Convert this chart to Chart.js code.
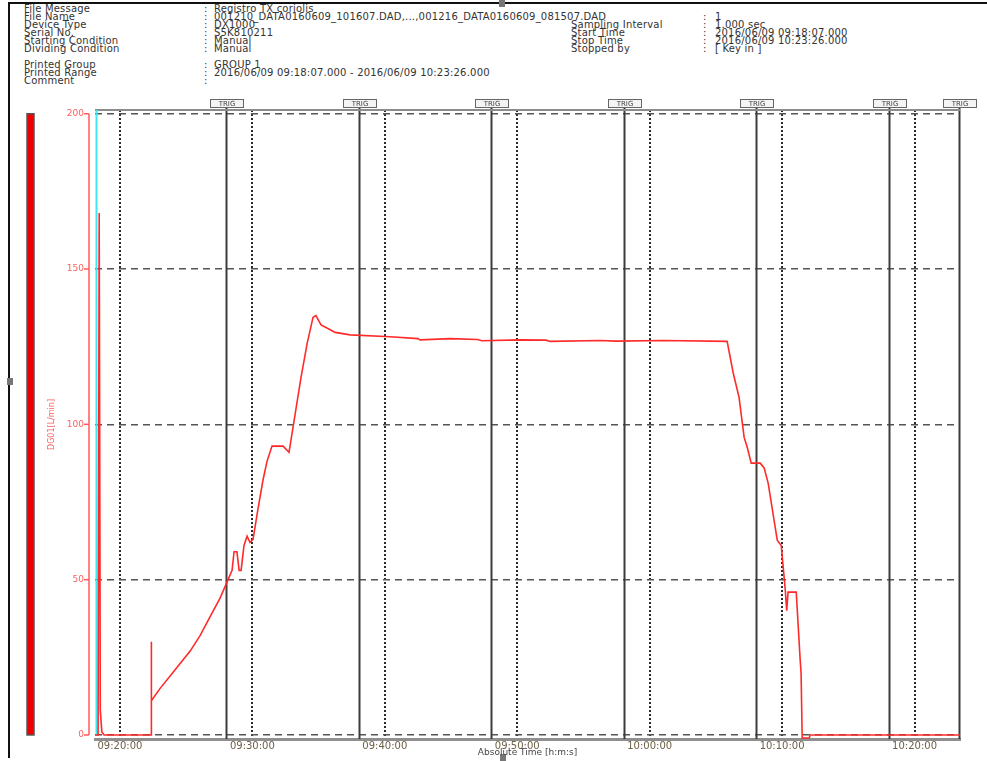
<!DOCTYPE html>
<html>
<head>
<meta charset="utf-8">
<script src="https://cdn.jsdelivr.net/npm/chart.js@4.4.1/dist/chart.umd.min.js"></script>
<style>
    html, body { margin: 0; padding: 0; background: #fff; }
    #page { position: relative; width: 987px; height: 761px; overflow: hidden; font-family: "DejaVu Sans", sans-serif; }
    #chart { position: absolute; left: 0; top: 0; }
    .hd { position: absolute; font-size: 10px; line-height: 9px; letter-spacing: 0.2px; color: #333; white-space: nowrap; }
    .frame { position: absolute; background: #111; }
    .sq { position: absolute; width: 6px; height: 7px; background: #777; }
</style>
</head>
<body>
<div id="page">
    <div class="frame" style="left:8px;top:2px;width:979px;height:2px;"></div>
    <div class="frame" style="left:8px;top:2px;width:2px;height:756px;"></div>
    <div class="sq" style="left:7px;top:378px;"></div>
    <div class="sq" style="left:499px;top:0px;"></div>
    <div class="sq" style="left:500px;top:754px;"></div>
    <div id="header"></div>
    <canvas id="chart" width="987" height="761"></canvas>
</div>
<script>
    // header rows: label, value
    var headerLeft = [
        ['File Message', 'Registro TX coriolis'],
        ['File Name', '001210_DATA0160609_101607.DAD,...,001216_DATA0160609_081507.DAD'],
        ['Device Type', 'DX1000'],
        ['Serial No.', 'S5K810211'],
        ['Starting Condition', 'Manual'],
        ['Dividing Condition', 'Manual'],
        null,
        ['Printed Group', 'GROUP 1'],
        ['Printed Range', '2016/06/09 09:18:07.000 - 2016/06/09 10:23:26.000'],
        ['Comment', '']
    ];
    var headerRight = [
        null,
        ['', '1'],
        ['Sampling Interval', '1.000 sec'],
        ['Start Time', '2016/06/09 09:18:07.000'],
        ['Stop Time', '2016/06/09 10:23:26.000'],
        ['Stopped by', '[ Key in ]']
    ];

    // trace (time, DG01 L/min)
    var times = [
        '09:18:07', '09:18:21', '09:18:26', '09:18:31', '09:18:38', '09:18:48',
        '09:22:21', '09:22:22', '09:22:23', '09:23:02', '09:24:10', '09:25:18',
        '09:26:03', '09:26:48', '09:27:33', '09:28:10', '09:28:28', '09:28:37',
        '09:28:50', '09:29:00', '09:29:09', '09:29:22', '09:29:36', '09:29:49',
        '09:30:03', '09:30:26', '09:30:48', '09:31:06', '09:31:29', '09:32:19',
        '09:32:46', '09:33:13', '09:33:40', '09:34:08', '09:34:35', '09:34:48',
        '09:35:11', '09:35:38', '09:36:15', '09:37:23', '09:40:24', '09:42:30',
        '09:42:40', '09:44:56', '09:47:00', '09:47:20', '09:50:13', '09:52:10',
        '09:52:30', '09:56:15', '09:57:30', '10:01:00', '10:05:51', '10:06:18',
        '10:06:45', '10:07:08', '10:07:22', '10:07:40', '10:08:21', '10:08:39',
        '10:08:57', '10:09:38', '10:09:56', '10:10:14', '10:10:21', '10:10:27',
        '10:11:04', '10:11:22', '10:11:26', '10:11:31', '10:12:03', '10:12:07',
        '10:23:26'
    ];
    var flow = [
        0, 0, 168, 8, 1, 0,
        0, 30, 11, 15, 21, 27,
        32, 38, 44, 50, 53, 59,
        59, 53, 53, 61, 64, 62,
        63, 73, 82, 88, 93, 93,
        91, 103, 115, 126, 134.5, 135,
        132, 131, 129.6, 128.8, 128.2, 127.6,
        127.2, 127.6, 127.3, 126.9, 127.2, 127.1,
        126.7, 127, 126.8, 127, 126.7, 116.7,
        108.7, 95.8, 92.6, 87.5, 87.5, 85.9,
        81, 62.7, 61, 47, 40, 46,
        46, 24, 20, -1, -1, 0,
        0
    ];

    var xTickLabels = ['09:20:00', '09:30:00', '09:40:00', '09:50:00', '10:00:00', '10:10:00', '10:20:00'];
    var yTickValues = [0, 50, 100, 150, 200];
    var trigTimes = ['09:28:07', '09:38:07', '09:48:07', '09:58:07', '10:08:07', '10:18:07', '10:23:26'];
    var startTime = '09:18:07';
    var stopTime = '10:23:26';

    function toSec(s) {
        var p = s.split(':');
        return (+p[0]) * 3600 + (+p[1]) * 60 + (+p[2]);
    }
    function pad(n) { return (n < 10 ? '0' : '') + n; }
    function fmt(v) {
        v = Math.round(v);
        return pad(Math.floor(v / 3600)) + ':' + pad(Math.floor(v / 60) % 60) + ':' + pad(v % 60);
    }

    // header text
    var header = document.getElementById('header');
    function addText(x, y, txt) {
        var d = document.createElement('div');
        d.className = 'hd';
        d.style.left = x + 'px';
        d.style.top = y + 'px';
        d.textContent = txt;
        header.appendChild(d);
    }
    headerLeft.forEach(function (row, i) {
        if (!row) return;
        var y = 4 + i * 8;
        addText(24, y, row[0]);
        addText(204, y, ':');
        addText(214, y, row[1]);
    });
    headerRight.forEach(function (row, i) {
        if (!row) return;
        var y = 4 + i * 8;
        if (row[0]) addText(571, y, row[0]);
        addText(703, y, ':');
        addText(715, y, row[1]);
    });

    var points = times.map(function (t, i) { return { x: toSec(t), y: flow[i] }; });

    var decor = {
        id: 'decor',
        beforeDatasetsDraw: function (chart) {
            var ctx = chart.ctx, a = chart.chartArea, x = chart.scales.x, y = chart.scales.y;
            var y0 = y.getPixelForValue(0), y200 = y.getPixelForValue(200);
            function line(x1, y1, x2, y2) { ctx.beginPath(); ctx.moveTo(x1, y1); ctx.lineTo(x2, y2); ctx.stroke(); }
            ctx.save();
            // trig lines
            ctx.strokeStyle = '#3c3c3c';
            ctx.lineWidth = 2;
            trigTimes.forEach(function (t) {
                var px = Math.round(x.getPixelForValue(toSec(t))) - 0.5;
                line(px, a.top - 3, px, a.bottom);
            });
            // top frame
            ctx.strokeStyle = '#8c8c8c';
            ctx.lineWidth = 2;
            line(a.left, a.top, a.right, a.top);
            // start marker
            ctx.strokeStyle = '#3ee6f2';
            ctx.lineWidth = 2;
            var sx = x.getPixelForValue(toSec(startTime)) + 1.5;
            line(sx, a.top, sx, a.bottom - 4);
            // red scale line with ticks
            ctx.strokeStyle = '#ff5a5a';
            ctx.lineWidth = 1.5;
            var ax = a.left - 6;
            line(ax, y200, ax, y0);
            yTickValues.forEach(function (v) {
                var py = y.getPixelForValue(v);
                line(ax - 5, py, ax, py);
            });
            // red bar
            ctx.fillStyle = '#ee0000';
            ctx.fillRect(a.left - 68, y200, 7, y0 - y200);
            ctx.strokeStyle = '#555';
            ctx.lineWidth = 1.5;
            ctx.strokeRect(a.left - 68, y200, 7, y0 - y200);
            ctx.restore();
        },
        afterDraw: function (chart) {
            var ctx = chart.ctx, a = chart.chartArea, x = chart.scales.x;
            ctx.save();
            ctx.font = '7px "DejaVu Sans"';
            ctx.textAlign = 'center';
            ctx.textBaseline = 'middle';
            trigTimes.forEach(function (t) {
                var px = Math.round(x.getPixelForValue(toSec(t)));
                ctx.fillStyle = '#f4f4f4';
                ctx.fillRect(px - 16, a.top - 10, 32, 8);
                ctx.strokeStyle = '#666';
                ctx.lineWidth = 1;
                ctx.strokeRect(px - 16.5, a.top - 10.5, 33, 8);
                ctx.fillStyle = '#444';
                ctx.fillText('TRIG', px, a.top - 6);
            });
            ctx.restore();
        }
    };

    var ctx = document.getElementById('chart').getContext('2d');
    var chart = new Chart(ctx, {
        type: 'line',
        data: {
            datasets: [{
                label: 'DG01',
                data: points,
                borderColor: '#ff2a2a',
                borderWidth: 1.6,
                pointRadius: 0,
                tension: 0
            }]
        },
        options: {
            responsive: false,
            animation: false,
            devicePixelRatio: 1,
            layout: { padding: { left: 0, right: 27, top: 110, bottom: 3 } },
            plugins: {
                legend: { display: false },
                tooltip: { enabled: false }
            },
            scales: {
                x: {
                    type: 'linear',
                    min: toSec(startTime),
                    max: toSec(stopTime),
                    afterBuildTicks: function (s) {
                        s.ticks = xTickLabels.map(function (t) { return { value: toSec(t) }; });
                    },
                    afterFit: function (s) { s.height = 19; },
                    ticks: {
                        autoSkip: false,
                        maxRotation: 0,
                        padding: 1,
                        color: '#6e6048',
                        font: { family: 'DejaVu Sans', size: 10 },
                        callback: function (v) { return fmt(v); }
                    },
                    grid: { color: '#2a2a2a', lineWidth: 2, drawTicks: false },
                    border: { display: true, color: '#8f8f8f', width: 3, dash: [2, 2] },
                    title: {
                        display: true,
                        text: 'Absolute Time [h:m:s]',
                        color: '#444',
                        font: { family: 'DejaVu Sans', size: 9 },
                        padding: 0
                    }
                },
                y: {
                    min: -1.3,
                    max: 201.2,
                    afterBuildTicks: function (s) {
                        s.ticks = yTickValues.map(function (v) { return { value: v }; });
                    },
                    afterFit: function (s) { s.width = 95; },
                    ticks: {
                        padding: 11,
                        color: '#ff6060',
                        font: { family: 'DejaVu Sans', size: 9 }
                    },
                    grid: { color: '#555', lineWidth: 1.5, drawTicks: false },
                    border: { display: false, dash: [7, 5] },
                    title: {
                        display: true,
                        text: 'DG01[L/min]',
                        color: '#ff6060',
                        font: { family: 'DejaVu Sans', size: 8 },
                        padding: { top: 47, bottom: 0 }
                    }
                }
            }
        },
        plugins: [decor]
    });
</script>
</body>
</html>
